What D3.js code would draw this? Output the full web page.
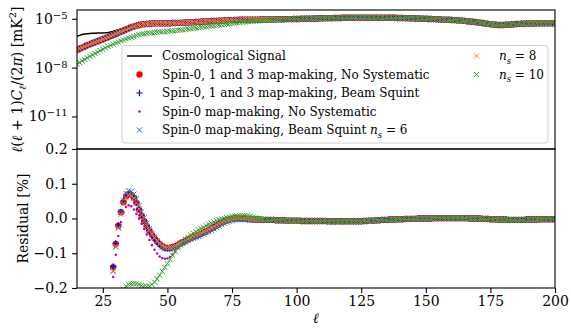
<!DOCTYPE html>
<html>
<head>
<meta charset="utf-8">
<script src="https://cdn.jsdelivr.net/npm/d3@7"></script>
<style>
  body { margin: 0; background: #fff; }
  svg text { font-family: "DejaVu Serif", "Liberation Serif", serif; fill: #000; }
</style>
</head>
<body>
<svg id="chart" width="571" height="329"></svg>
<script>
// ---- data ----
// top panel: log10 of l(l+1)Cl/2pi [mK^2], one value per multipole l = 15..200
const topEllStart = 15;
// map-made spectra (spin-0,1,3 runs, spin-0 runs with ns = 6 and 8 all overlap)
const topMapMade = [
  -6.91, -6.84, -6.77, -6.70, -6.63, -6.57, -6.50, -6.44, -6.38, -6.32,
  -6.26, -6.19, -6.13, -6.06, -6.00, -5.93, -5.86, -5.80, -5.73, -5.66,
  -5.59, -5.52, -5.47, -5.42, -5.38, -5.35, -5.33, -5.31, -5.30, -5.29,
  -5.28, -5.28, -5.28, -5.27, -5.27, -5.27, -5.27, -5.26, -5.26, -5.25,
  -5.25, -5.24, -5.23, -5.23, -5.22, -5.21, -5.20, -5.19, -5.18, -5.17,
  -5.16, -5.15, -5.14, -5.14, -5.13, -5.12, -5.11, -5.10, -5.09, -5.09,
  -5.08, -5.07, -5.07, -5.06, -5.06, -5.05, -5.05, -5.05, -5.05, -5.05,
  -5.05, -5.04, -5.04, -5.04, -5.04, -5.04, -5.04, -5.03, -5.03, -5.03,
  -5.03, -5.02, -5.02, -5.02, -5.01, -5.01, -5.01, -5.00, -5.00, -5.00,
  -4.99, -4.99, -4.98, -4.98, -4.97, -4.97, -4.97, -4.96, -4.96, -4.96,
  -4.95, -4.95, -4.95, -4.94, -4.94, -4.94, -4.94, -4.94, -4.93, -4.93,
  -4.93, -4.93, -4.93, -4.93, -4.93, -4.93, -4.93, -4.93, -4.93, -4.93,
  -4.94, -4.94, -4.94, -4.94, -4.95, -4.95, -4.95, -4.96, -4.96, -4.97,
  -4.97, -4.98, -4.98, -4.99, -4.99, -5.00, -5.01, -5.01, -5.02, -5.03,
  -5.03, -5.04, -5.05, -5.05, -5.06, -5.07, -5.08, -5.09, -5.10, -5.11,
  -5.13, -5.15, -5.16, -5.18, -5.20, -5.22, -5.24, -5.26, -5.29, -5.31,
  -5.33, -5.35, -5.37, -5.38, -5.38, -5.38, -5.37, -5.36, -5.35, -5.34,
  -5.32, -5.31, -5.30, -5.30, -5.29, -5.29, -5.29, -5.29, -5.28, -5.28,
  -5.28, -5.28, -5.28, -5.28, -5.28, -5.28
];
// ns = 10 run sits lower at low l (l = 15..100), then joins the others
const topNs10Low = [
  -7.79, -7.69, -7.59, -7.50, -7.40, -7.31, -7.22, -7.13, -7.05, -6.96,
  -6.87, -6.79, -6.70, -6.63, -6.56, -6.49, -6.43, -6.36, -6.30, -6.23,
  -6.18, -6.13, -6.08, -6.03, -5.98, -5.94, -5.92, -5.90, -5.88, -5.86,
  -5.84, -5.83, -5.81, -5.80, -5.79, -5.77, -5.76, -5.74, -5.73, -5.71,
  -5.69, -5.67, -5.65, -5.63, -5.61, -5.59, -5.56, -5.54, -5.52, -5.50,
  -5.48, -5.46, -5.44, -5.42, -5.40, -5.38, -5.36, -5.34, -5.32, -5.30,
  -5.28, -5.26, -5.24, -5.22, -5.20, -5.19, -5.18, -5.16, -5.15, -5.14,
  -5.13, -5.12, -5.11, -5.10, -5.09, -5.08, -5.07, -5.07, -5.06, -5.05,
  -5.05, -5.04, -5.03, -5.03, -5.02, -5.01
];
// cosmological signal (solid line)
const signalEll = [15, 16, 17, 18, 19, 20, 21, 22, 23, 24, 25, 26, 27, 28, 29, 30,
  31, 32, 33, 34, 35, 36, 37, 38, 39, 40, 45, 50, 60, 70, 80, 90, 100, 110, 120,
  130, 140, 150, 160, 170, 175, 180, 185, 190, 200];
const signalLog = [-6.08, -6.02, -5.97, -5.94, -5.92, -5.90, -5.89, -5.89, -5.88, -5.88,
  -5.87, -5.86, -5.84, -5.81, -5.77, -5.72, -5.67, -5.62, -5.57, -5.52, -5.47, -5.42,
  -5.38, -5.35, -5.33, -5.31, -5.26, -5.25, -5.20, -5.11, -5.04, -5.03, -5.00, -4.96,
  -4.93, -4.92, -4.94, -4.99, -5.06, -5.21, -5.32, -5.36, -5.30, -5.28, -5.27];

// bottom panel: residual [%], l = 29..89 per run, then a common tail l = 90..200
const resEllStart = 29;
const resS013NoSys = [
  -0.140, -0.073, -0.021, 0.018, 0.047, 0.064, 0.071, 0.068, 0.060, 0.045, 0.025, 0.008,
  -0.008, -0.022, -0.035, -0.047, -0.057, -0.066, -0.074, -0.080, -0.084, -0.085,
  -0.084, -0.082, -0.080, -0.076, -0.072, -0.068, -0.064, -0.060, -0.056, -0.053,
  -0.050, -0.047, -0.044, -0.040, -0.037, -0.033, -0.029, -0.025, -0.020, -0.016,
  -0.012, -0.008, -0.005, -0.003, -0.001, 0.000, 0.001, 0.001, 0.001, 0.000,
  -0.001, -0.002, -0.002, -0.003, -0.003, -0.003, -0.004, -0.004, -0.004
];
const resS013Squint = [
  -0.138, -0.072, -0.020, 0.019, 0.049, 0.066, 0.073, 0.070, 0.062, 0.047, 0.027, 0.010,
  -0.006, -0.021, -0.034, -0.046, -0.057, -0.066, -0.074, -0.080, -0.084, -0.086,
  -0.085, -0.083, -0.080, -0.076, -0.072, -0.068, -0.064, -0.060, -0.057, -0.054,
  -0.051, -0.048, -0.045, -0.041, -0.037, -0.033, -0.029, -0.025, -0.020, -0.016,
  -0.012, -0.008, -0.005, -0.003, -0.001, 0.000, 0.001, 0.001, 0.000, -0.001,
  -0.002, -0.002, -0.003, -0.003, -0.003, -0.004, -0.004, -0.004, -0.004
];
const resS0NoSys = [
  -0.168, -0.104, -0.050, -0.010, 0.018, 0.033, 0.038, 0.035, 0.026, 0.013, -0.001, -0.015,
  -0.030, -0.046, -0.062, -0.077, -0.090, -0.101, -0.109, -0.114, -0.116, -0.115,
  -0.111, -0.104, -0.095, -0.085, -0.076, -0.069, -0.063, -0.059, -0.056, -0.053,
  -0.050, -0.047, -0.044, -0.040, -0.037, -0.033, -0.029, -0.025, -0.020, -0.016,
  -0.012, -0.008, -0.005, -0.003, -0.001, 0.000, 0.001, 0.001, 0.000, -0.001,
  -0.001, -0.002, -0.002, -0.003, -0.003, -0.003, -0.004, -0.004, -0.004
];
const resS0Ns6 = [
  -0.152, -0.082, -0.026, 0.020, 0.053, 0.072, 0.080, 0.078, 0.070, 0.056, 0.037, 0.019,
  0.002, -0.014, -0.029, -0.043, -0.055, -0.066, -0.075, -0.082, -0.087, -0.089,
  -0.089, -0.087, -0.084, -0.080, -0.076, -0.072, -0.068, -0.064, -0.060, -0.057,
  -0.054, -0.051, -0.048, -0.045, -0.041, -0.038, -0.034, -0.030, -0.026, -0.022,
  -0.018, -0.014, -0.011, -0.008, -0.006, -0.004, -0.003, -0.003, -0.003, -0.003,
  -0.003, -0.003, -0.003, -0.004, -0.004, -0.004, -0.004, -0.004, -0.004
];
const resS0Ns8 = [
  -0.150, -0.080, -0.028, 0.012, 0.042, 0.060, 0.067, 0.066, 0.059, 0.045, 0.027, 0.010,
  -0.006, -0.020, -0.033, -0.045, -0.055, -0.064, -0.071, -0.077, -0.081, -0.083,
  -0.083, -0.081, -0.078, -0.074, -0.070, -0.066, -0.062, -0.058, -0.054, -0.050,
  -0.047, -0.044, -0.041, -0.037, -0.034, -0.030, -0.026, -0.022, -0.018, -0.014,
  -0.010, -0.007, -0.004, -0.002, 0.000, 0.002, 0.003, 0.003, 0.003, 0.002,
  0.001, 0.000, -0.001, -0.002, -0.002, -0.003, -0.003, -0.003, -0.004
];
const resS0Ns10 = [
  -0.300, -0.262, -0.232, -0.214, -0.204, -0.195, -0.190, -0.188, -0.187, -0.188, -0.190, -0.193,
  -0.195, -0.196, -0.195, -0.190, -0.183, -0.174, -0.163, -0.152, -0.141, -0.130,
  -0.118, -0.106, -0.095, -0.084, -0.075, -0.067, -0.060, -0.054, -0.048, -0.043,
  -0.038, -0.033, -0.029, -0.025, -0.021, -0.017, -0.014, -0.010, -0.007, -0.004,
  -0.002, 0.000, 0.002, 0.004, 0.005, 0.006, 0.007, 0.008, 0.008, 0.008,
  0.007, 0.006, 0.004, 0.002, 0.000, -0.001, -0.002, -0.003, -0.004
];
// all six runs overlap from l = 90 on
const resTail = [
  -0.004, -0.004, -0.005, -0.005, -0.005, -0.005, -0.006, -0.006, -0.006, -0.006,
  -0.006, -0.006, -0.007, -0.007, -0.007, -0.007, -0.007, -0.007, -0.007, -0.007,
  -0.007, -0.007, -0.008, -0.008, -0.008, -0.008, -0.008, -0.008, -0.008, -0.008,
  -0.008, -0.008, -0.008, -0.008, -0.008, -0.008, -0.007, -0.007, -0.006, -0.006,
  -0.006, -0.005, -0.005, -0.004, -0.004, -0.004, -0.003, -0.003, -0.003, -0.002,
  -0.002, -0.002, -0.001, -0.001, -0.001, -0.001, -0.001, 0.000, 0.000, 0.000,
  0.000, 0.000, 0.000, 0.001, 0.001, 0.001, 0.001, 0.001, 0.001, 0.001,
  0.001, 0.001, 0.001, 0.001, 0.001, 0.001, 0.001, 0.000, 0.000, 0.000,
  0.000, 0.000, -0.001, -0.001, -0.001, -0.002, -0.002, -0.002, -0.003, -0.003,
  -0.003, -0.003, -0.004, -0.004, -0.004, -0.004, -0.004, -0.004, -0.004, -0.003,
  -0.003, -0.003, -0.003, -0.003, -0.002, -0.002, -0.002, -0.002, -0.002, -0.002, -0.002
];

const xTicks = [25, 50, 75, 100, 125, 150, 175, 200];
const topTicks = [1e-11, 1e-8, 1e-5];
const topTickExp = ['−11', '−8', '−5'];
const resTicks = [-0.2, -0.1, 0.0, 0.1, 0.2];

// ---- layout ----
const FONT = '"DejaVu Serif", "Liberation Serif", serif';
const svg = d3.select('#chart').attr('font-family', FONT);
const box = { left: 77, right: 555, top: 10, mid: 149, bottom: 288 };
const translate = (x, y) => `translate(${x}, ${y})`;

const xScale = d3.scaleLinear().domain([15, 200]).range([box.left, box.right]);
const yTop = d3.scaleLog().domain([1e-13, Math.pow(10, -4.46)]).range([box.mid, box.top]);
const yRes = d3.scaleLinear().domain([-0.2, 0.2]).range([box.bottom, box.mid]);

const defs = svg.append('defs');
defs.append('clipPath').attr('id', 'clipTop').append('rect')
    .attr('x', box.left).attr('y', box.top)
    .attr('width', box.right - box.left).attr('height', box.mid - box.top);
defs.append('clipPath').attr('id', 'clipRes').append('rect')
    .attr('x', box.left).attr('y', box.mid)
    .attr('width', box.right - box.left).attr('height', box.bottom - box.mid);

// marker painters
const markerPath = {
    plus: s => `M${-s},0H${s}M0,${-s}V${s}`,
    cross: s => `M${-s},${-s}L${s},${s}M${-s},${s}L${s},${-s}`,
};
function drawMarkers(g, pts, kind, color) {
    if (kind === 'o' || kind === '.') {
        g.selectAll(null).data(pts).join('circle')
            .attr('cx', d => d[0]).attr('cy', d => d[1])
            .attr('r', kind === 'o' ? 3.2 : 1.25)
            .attr('fill', color);
    } else {
        const p = kind === '+' ? markerPath.plus(3.2) : markerPath.cross(2.6);
        g.selectAll(null).data(pts).join('path')
            .attr('transform', d => translate(d[0], d[1]))
            .attr('d', p)
            .attr('fill', 'none')
            .attr('stroke', color)
            .attr('stroke-width', kind === '+' ? 1.2 : 1.0);
    }
}

const series = [
    { key: 'red', kind: 'o', color: '#ff0000', top: topMapMade, res: resS013NoSys },
    { key: 'blue', kind: '+', color: '#0000ff', top: topMapMade, res: resS013Squint },
    { key: 'mag', kind: '.', color: '#bf00bf', top: topMapMade, res: resS0NoSys },
    { key: 'ns6', kind: 'x', color: '#1f77b4', top: topMapMade, res: resS0Ns6 },
    { key: 'ns8', kind: 'x', color: '#ff7f0e', top: topMapMade, res: resS0Ns8 },
    { key: 'ns10', kind: 'x', color: '#2ca02c', top: topNs10Low, res: resS0Ns10 },
];

// ---- top panel ----
const topG = svg.append('g').attr('clip-path', 'url(#clipTop)');
const signalLine = d3.line()
    .x((d, i) => xScale(signalEll[i]))
    .y(d => yTop(Math.pow(10, d)));
topG.append('path')
    .attr('d', signalLine(signalLog))
    .attr('fill', 'none')
    .attr('stroke', '#000')
    .attr('stroke-width', 1.5);

series.forEach(s => {
    const pts = topMapMade.map((v, i) => {
        const l = topEllStart + i;
        const lv = i < s.top.length ? s.top[i] : v;
        return [xScale(l), yTop(Math.pow(10, lv))];
    });
    drawMarkers(topG.append('g'), pts, s.kind, s.color);
});

// ---- residual panel ----
const resG = svg.append('g').attr('clip-path', 'url(#clipRes)');
series.forEach(s => {
    const vals = s.res.concat(resTail);
    const pts = vals.map((v, i) => [xScale(resEllStart + i), yRes(v)]);
    drawMarkers(resG.append('g'), pts, s.kind, s.color);
});

// ---- axes ----
const tickLen = 4.9;
const xAxis = d3.axisBottom(xScale).tickValues(xTicks).tickSize(tickLen).tickPadding(3.5);
const gx = svg.append('g').attr('transform', translate(0, box.bottom)).call(xAxis);

const resAxis = d3.axisLeft(yRes).tickValues(resTicks).tickSize(tickLen).tickPadding(4.5)
    .tickFormat(d => d3.format('.1f')(d).replace('-', '−'));
const gr = svg.append('g').attr('transform', translate(box.left, 0)).call(resAxis);

const topAxis = d3.axisLeft(yTop).tickValues(topTicks).tickSize(tickLen).tickPadding(4.5)
    .tickFormat(() => '');
const gt = svg.append('g').attr('transform', translate(box.left, 0)).call(topAxis);
gt.selectAll('.tick text').each(function (d, i) {
    const t = d3.select(this);
    t.append('tspan').text('10');
    t.append('tspan').attr('dy', '-0.5em').attr('font-size', '10px').text(topTickExp[i]);
});

[gx, gr, gt].forEach(g => {
    g.attr('font-family', FONT);
    g.select('.domain').remove();
    g.selectAll('.tick line').attr('stroke', '#000').attr('stroke-width', 1.1);
    g.selectAll('.tick text').attr('font-size', '14px')
        .attr('font-family', FONT).attr('fill', '#000');
});

// frames
const frame = (y0, y1) => svg.append('rect')
    .attr('x', box.left).attr('y', y0)
    .attr('width', box.right - box.left).attr('height', y1 - y0)
    .attr('fill', 'none').attr('stroke', '#000').attr('stroke-width', 1.1);
frame(box.top, box.mid);
frame(box.mid, box.bottom);

// ---- labels ----
function richText(sel, segs) {
    let shift = 0;
    segs.forEach(s => {
        const sp = sel.append('tspan').text(s.t);
        let target = 0;
        if (s.sub) target = 3.5;
        if (s.sup) target = -6;
        if (target !== shift) { sp.attr('dy', target - shift); shift = target; }
        if (s.i) sp.attr('font-style', 'italic');
        if (s.sub || s.sup) sp.attr('font-size', '0.7em');
    });
}

const yLabTop = svg.append('text')
    .attr('transform', translate(22, (box.top + box.mid) / 2) + ' rotate(-90)')
    .attr('text-anchor', 'middle')
    .attr('font-size', '14px');
richText(yLabTop, [
    { t: 'ℓ', i: true }, { t: '(' }, { t: 'ℓ', i: true }, { t: ' + 1)' }, { t: 'C', i: true },
    { t: 'ℓ', i: true, sub: true }, { t: '/(2' }, { t: 'π', i: true }, { t: ') [mK' },
    { t: '2', sup: true }, { t: ']' },
]);

svg.append('text')
    .attr('transform', translate(28, (box.mid + box.bottom) / 2) + ' rotate(-90)')
    .attr('text-anchor', 'middle')
    .attr('font-size', '14px')
    .text('Residual [%]');

svg.append('text')
    .attr('x', (box.left + box.right) / 2).attr('y', 323)
    .attr('text-anchor', 'middle')
    .attr('font-size', '14px')
    .attr('font-style', 'italic')
    .text('ℓ');

// ---- legend ----
const legend = svg.append('g');
legend.append('rect')
    .attr('x', 122).attr('y', 45.5).attr('width', 426).attr('height', 97.5)
    .attr('rx', 3).attr('fill', 'white').attr('fill-opacity', 0.8)
    .attr('stroke', '#d0d0d0').attr('stroke-width', 1);

const rowY = i => 56 + i * 18.5;
const legendRows = [
    { col: 0, row: 0, kind: 'line', color: '#000', segs: [{ t: 'Cosmological Signal' }] },
    { col: 0, row: 1, kind: 'o', color: '#ff0000', segs: [{ t: 'Spin-0, 1 and 3 map-making, No Systematic' }] },
    { col: 0, row: 2, kind: '+', color: '#0000ff', segs: [{ t: 'Spin-0, 1 and 3 map-making, Beam Squint' }] },
    { col: 0, row: 3, kind: '.', color: '#bf00bf', segs: [{ t: 'Spin-0 map-making, No Systematic' }] },
    { col: 0, row: 4, kind: 'x', color: '#1f77b4', segs: [{ t: 'Spin-0 map-making, Beam Squint ' }, { t: 'n', i: true }, { t: 's', i: true, sub: true }, { t: ' = 6' }] },
    { col: 1, row: 0, kind: 'x', color: '#ff7f0e', segs: [{ t: 'n', i: true }, { t: 's', i: true, sub: true }, { t: ' = 8' }] },
    { col: 1, row: 1, kind: 'x', color: '#2ca02c', segs: [{ t: 'n', i: true }, { t: 's', i: true, sub: true }, { t: ' = 10' }] },
];
const colX = [{ mark: 139.5, text: 162 }, { mark: 476.5, text: 499 }];

legendRows.forEach(r => {
    const y = rowY(r.row);
    const c = colX[r.col];
    if (r.kind === 'line') {
        legend.append('line')
            .attr('x1', c.mark - 12.5).attr('x2', c.mark + 12.5)
            .attr('y1', y).attr('y2', y)
            .attr('stroke', r.color).attr('stroke-width', 1.5);
    } else {
        drawMarkers(legend.append('g'), [[c.mark, y]], r.kind, r.color);
    }
    const t = legend.append('text')
        .attr('x', c.text).attr('y', y + 4.2)
        .attr('font-size', '12px');
    richText(t, r.segs);
});
</script>
</body>
</html>
